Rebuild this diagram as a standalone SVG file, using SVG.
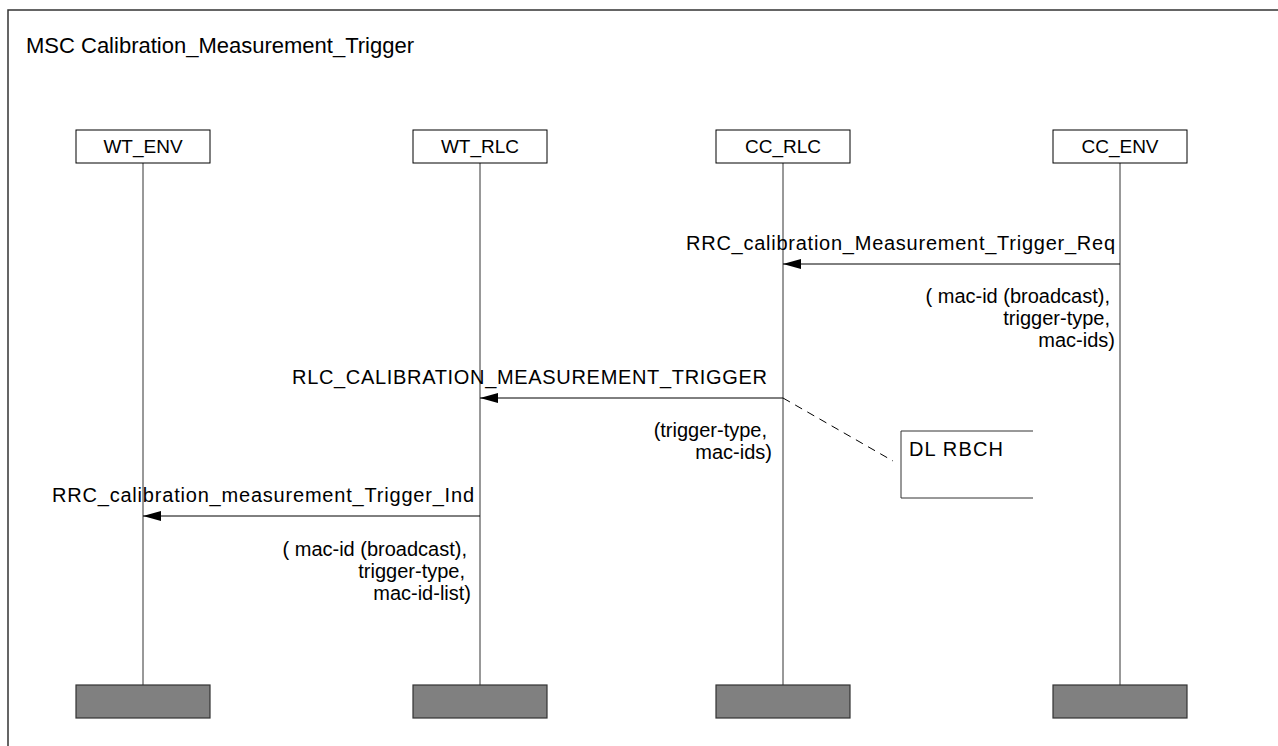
<svg xmlns="http://www.w3.org/2000/svg" width="1278" height="746" viewBox="0 0 1278 746">
<style>
text{font-family:"Liberation Sans",Arial,sans-serif;fill:#000}
.t{font-size:22px}
.l{font-size:19px}
.p{font-size:20px}
.e{text-anchor:end}
.m{text-anchor:middle}
.box{fill:#fff;stroke:#000;stroke-width:1}
.end{fill:#808080;stroke:#333;stroke-width:1.2}
.life{stroke:#333;stroke-width:1}
.msg{stroke:#000;stroke-width:1;fill:none}
</style>
<defs>
<marker id="ah" markerWidth="18" markerHeight="10" refX="18" refY="5" orient="auto" markerUnits="userSpaceOnUse">
<path d="M0,0 L18,5 L0,10 Z" fill="#000"/>
</marker>
</defs>
<rect width="1278" height="746" fill="#fff"/>
<g id="frame">
<path d="M8,746 V10 H1278" fill="none" stroke="#333" stroke-width="1.5"/>
<text class="t" x="26" y="53">MSC Calibration_Measurement_Trigger</text>
</g>
<g id="WT_ENV">
<line class="life" x1="143" y1="163" x2="143" y2="685"/>
<rect class="box" x="76" y="130" width="134" height="33"/>
<text class="l m" x="143" y="153">WT_ENV</text>
<rect class="end" x="76" y="685" width="134" height="33"/>
</g>
<g id="WT_RLC">
<line class="life" x1="480" y1="163" x2="480" y2="685"/>
<rect class="box" x="413" y="130" width="134" height="33"/>
<text class="l m" x="480" y="153">WT_RLC</text>
<rect class="end" x="413" y="685" width="134" height="33"/>
</g>
<g id="CC_RLC">
<line class="life" x1="783" y1="163" x2="783" y2="685"/>
<rect class="box" x="716" y="130" width="134" height="33"/>
<text class="l m" x="783" y="153">CC_RLC</text>
<rect class="end" x="716" y="685" width="134" height="33"/>
</g>
<g id="CC_ENV">
<line class="life" x1="1120" y1="163" x2="1120" y2="685"/>
<rect class="box" x="1053" y="130" width="134" height="33"/>
<text class="l m" x="1120" y="153">CC_ENV</text>
<rect class="end" x="1053" y="685" width="134" height="33"/>
</g>
<g id="DL_RBCH">
<path d="M1033,431 H901 V498 H1033" fill="none" stroke="#333" stroke-width="1"/>
<text class="p" x="909" y="456" textLength="94" lengthAdjust="spacing">DL RBCH</text>
</g>
<g id="connectors">
<line class="msg" x1="1120" y1="264" x2="783" y2="264" marker-end="url(#ah)"/>
<line class="msg" x1="783" y1="398" x2="480" y2="398" marker-end="url(#ah)"/>
<line class="msg" x1="480" y1="516" x2="143" y2="516" marker-end="url(#ah)"/>
<line x1="783" y1="398" x2="893" y2="461" stroke="#000" stroke-width="1" stroke-dasharray="8,6"/>
</g>
<g id="labels">
<text class="p" x="686" y="250" textLength="429" lengthAdjust="spacing">RRC_calibration_Measurement_Trigger_Req</text>
<text class="p e" x="1110" y="303">( mac-id (broadcast),</text>
<text class="p e" x="1110" y="325">trigger-type,</text>
<text class="p e" x="1115" y="347">mac-ids)</text>
<text class="p" x="292" y="384" textLength="475" lengthAdjust="spacing">RLC_CALIBRATION_MEASUREMENT_TRIGGER</text>
<text class="p e" x="767" y="437">(trigger-type,</text>
<text class="p e" x="772" y="459">mac-ids)</text>
<text class="p" x="52" y="502" textLength="422" lengthAdjust="spacing">RRC_calibration_measurement_Trigger_Ind</text>
<text class="p e" x="467" y="556">( mac-id (broadcast),</text>
<text class="p e" x="465" y="578">trigger-type,</text>
<text class="p e" x="471" y="600">mac-id-list)</text>
</g>
</svg>
